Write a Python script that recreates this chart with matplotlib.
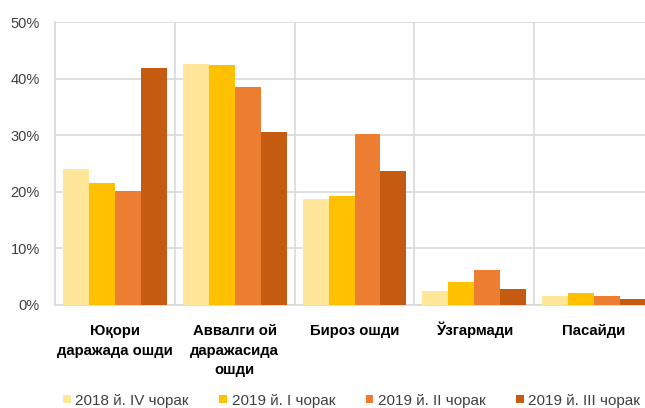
import matplotlib
matplotlib.use("Agg")
import matplotlib.pyplot as plt
import numpy as np
from matplotlib.patches import Patch
from matplotlib.ticker import PercentFormatter

categories = ["Юқори\nдаражада ошди", "Аввалги ой\nдаражасида\nошди", "Бироз ошди", "Ўзгармади", "Пасайди"]
series_names = ["2018 й. IV чорак", "2019 й. I чорак", "2019 й. II чорак", "2019 й. III чорак"]
s2018_q4 = [24.0, 42.6, 18.7, 2.5, 1.6]
s2019_q1 = [21.6, 42.4, 19.2, 4.1, 2.2]
s2019_q2 = [20.1, 38.5, 30.2, 6.1, 1.6]
s2019_q3 = [41.8, 30.6, 23.6, 2.8, 1.0]
yticks = [0, 10, 20, 30, 40, 50]

colors = ["#FFE699", "#FFC000", "#ED7D31", "#C55A11"]
series = [s2018_q4, s2019_q1, s2019_q2, s2019_q3]

plt.rcParams['font.family'] = ['Liberation Sans', 'DejaVu Sans']

fig = plt.figure(figsize=(6.45, 4.08), dpi=100)
ax = fig.add_axes([55/645, 103/408, 599/645, 283/408])

x = np.arange(len(categories))
bw = 0.217
for i, (vals, c) in enumerate(zip(series, colors)):
    ax.bar(x + (i - 1.5) * bw, vals, width=bw, color=c, zorder=3, linewidth=0)

ax.set_xlim(-0.5, len(categories) - 0.5)
ax.set_ylim(0, 50)
ax.set_yticks(yticks)
ax.yaxis.set_major_formatter(PercentFormatter(decimals=0))
ax.set_xticks(x)
ax.set_xticklabels([''] * len(categories))
ax.set_xticks(np.arange(-0.5, len(categories), 1), minor=True)

# category labels, each line on a common baseline
for xi, label in zip(x, categories):
    for j, line in enumerate(label.split('\n')):
        ax.annotate(line, xy=(xi, 0), xycoords=('data', 'axes fraction'),
                    xytext=(0, -30 - j * 19.5), textcoords='offset pixels',
                    ha='center', va='baseline', fontsize=10.7, fontweight='bold',
                    color='black', annotation_clip=False)

ax.grid(axis='y', which='major', color='#D9D9D9', linewidth=1.2, zorder=0)
ax.grid(axis='x', which='minor', color='#D9D9D9', linewidth=1.2, zorder=0)
ax.tick_params(axis='x', which='both', length=0)
ax.tick_params(axis='y', length=0, pad=11, labelsize=10.5, labelcolor='#404040')
for s in ['top', 'right']:
    ax.spines[s].set_visible(False)
ax.spines['left'].set_color('#D9D9D9')
ax.spines['bottom'].set_color('#D9D9D9')
ax.spines['left'].set_linewidth(1.2)
ax.spines['bottom'].set_linewidth(1.2)

handles = [Patch(facecolor=c, edgecolor='none') for c in colors]
fig.legend(handles, series_names, loc='center left', bbox_to_anchor=(63/645, 7.5/408),
           ncol=4, frameon=False, fontsize=11, handlelength=0.5, handleheight=0.5,
           handletextpad=0.3, columnspacing=2.0, borderaxespad=0, borderpad=0,
           labelcolor='#404040')

fig.savefig("out.png", dpi=100)
